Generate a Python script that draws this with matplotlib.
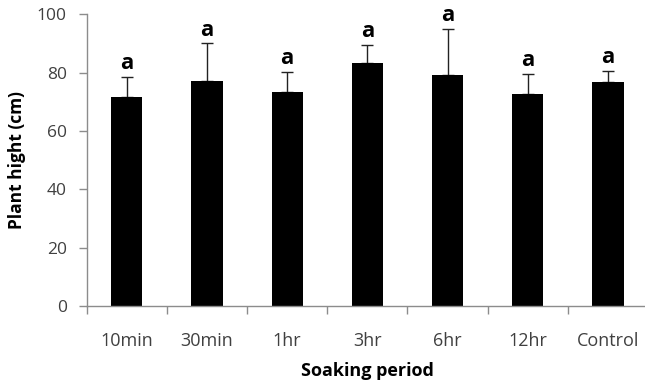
import matplotlib
matplotlib.use("Agg")
import matplotlib.pyplot as plt
import numpy as np

categories = ["10min", "30min", "1hr", "3hr", "6hr", "12hr", "Control"]
means = [71.8, 77.2, 73.3, 83.2, 79.2, 72.7, 76.7]
errors = [6.8, 12.8, 7.0, 6.3, 15.7, 6.8, 3.9]
letters = ["a", "a", "a", "a", "a", "a", "a"]
yticks = [0, 20, 40, 60, 80, 100]

plt.rcParams['font.family'] = ['Open Sans', 'DejaVu Sans']

fig = plt.figure(figsize=(6.45, 3.83), dpi=100)
W, H = 645, 383
left_px, right_px = 86.7, 648.0
bottom_px, top_px = 306.0, 14.3
ax = fig.add_axes([left_px / W, 1 - bottom_px / H,
                   (right_px - left_px) / W, (bottom_px - top_px) / H])

x = np.arange(len(categories))
ax.bar(x, means, width=0.39, color="black", zorder=2)
ax.errorbar(x, means, yerr=[np.zeros(len(errors)), errors], fmt="none",
            ecolor="#222222", elinewidth=1.0, capsize=4, capthick=1.0, zorder=1)

for xi, m, e, t in zip(x, means, errors, letters):
    ax.annotate(t, (xi, m + e), xytext=(0, 2), textcoords="offset points",
                ha="center", va="bottom", fontsize=16, fontweight="bold",
                color="black")

ax.set_xlim(-0.5, len(categories) - 0.5)
ax.set_ylim(0, 100)
ax.set_yticks(yticks)
ax.set_yticklabels([str(v) for v in yticks])
ax.set_xticks(x)
ax.set_xticklabels(categories)
ax.set_xticks(np.arange(len(categories) + 1) - 0.5, minor=True)

for s in ["top", "right"]:
    ax.spines[s].set_visible(False)
for s in ["left", "bottom"]:
    ax.spines[s].set_color("#8c8c8c")
    ax.spines[s].set_linewidth(1.0)

ax.tick_params(axis="y", direction="out", length=5.8, width=1, color="#8c8c8c",
               labelsize=12.5, labelcolor="#404040", pad=8.5)
ax.tick_params(axis="x", which="major", length=0, labelsize=13,
               labelcolor="#404040", pad=19)
ax.tick_params(axis="x", which="minor", direction="out", length=5.5, width=1,
               color="#8c8c8c")

ax.set_xlabel("Soaking period", fontsize=13, fontweight="bold", labelpad=8)
ax.set_ylabel("Plant hight (cm)", fontsize=12.5, fontweight="bold", labelpad=8)

fig.savefig("out.png", dpi=100)
